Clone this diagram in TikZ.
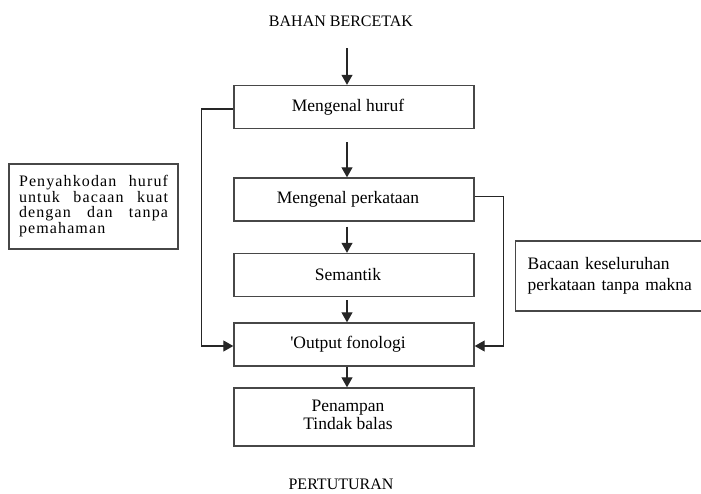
\documentclass[tikz,border=0pt]{standalone}
\usepackage{fontspec}
\setmainfont{Liberation Serif}
\newfontfamily\spacedfont[LetterSpace=7]{Liberation Serif}
\usetikzlibrary{arrows.meta}
\newcommand{\bxtext}[1]{\makebox[228pt]{#1}\hspace*{12pt}}
\tikzset{
  bx/.style={draw=black!72, line width=1.4pt, minimum width=240pt, minimum height=43pt,
    inner sep=0pt, font=\fontsize{17.5}{18}\selectfont},
  sidebox/.style={draw=black!72, line width=1.4pt, inner sep=0pt},
  arr/.style={-{Triangle[width=11pt,length=10pt]}, line width=1.1pt, draw=black!85},
  lbl/.style={font=\fontsize{16}{18}\selectfont, inner sep=0pt}
}
\begin{document}
\begin{tikzpicture}[x=1pt,y=-1pt]
\useasboundingbox (0,0) rectangle (701,493);
\node[lbl] (top) at (341,21) {BAHAN BERCETAK};
\node[lbl, anchor=base] (bottom) at (341,489) {PERTUTURAN};
\node[bx] (b1) at (354,107) {\bxtext{Mengenal huruf}};
\node[bx] (b2) at (354,199.5) {\bxtext{Mengenal perkataan}};
\node[bx] (b3) at (354,275) {\bxtext{Semantik}};
\node[bx] (b4) at (354,344.5) {\bxtext{\textquotesingle Output fonologi}};
\node[bx, minimum height=58pt] (b5) at (354,417)
  {\bxtext{\begin{tabular}{@{}c@{}}Penampan\\Tindak balas\end{tabular}}};
\node[sidebox, minimum width=169pt, minimum height=85pt, inner xsep=9pt,
  font=\spacedfont\fontsize{16}{14.4}\selectfont] (lb) at (93.5,206.5)
  {\begin{tabular}{@{}l@{}}%
  \makebox[149pt][s]{Penyahkodan huruf}\\
  \makebox[149pt][s]{untuk bacaan kuat}\\
  \makebox[149pt][s]{dengan dan tanpa}\\
  pemahaman\end{tabular}};
\node[sidebox, anchor=west, minimum height=70pt, inner xsep=12pt, text width=172pt,
  align=left, font=\fontsize{17.5}{20.5}\selectfont] (rb) at (515,276)
  {Bacaan keseluruhan\\perkataan tanpa makna};
\coordinate (a0) at (347,48);
\draw[arr] (a0) -- (a0 |- b1.north);
\draw[arr, shorten <=13pt] (b1.south -| a0) -- (b2.north -| a0);
\draw[arr, shorten <=5pt] (b2.south -| a0) -- (b3.north -| a0);
\draw[arr, shorten <=3pt] (b3.south -| a0) -- (b4.north -| a0);
\draw[arr] (b4.south -| a0) -- (b5.north -| a0);
\draw[arr] ([yshift=-2pt]b1.west) -- ++(-32,0) |- ([yshift=-1.5pt]b4.west);
\draw[arr] ([yshift=3pt]b2.east) -- ++(29,0) |- ([yshift=-1.5pt]b4.east);
\end{tikzpicture}
\end{document}
